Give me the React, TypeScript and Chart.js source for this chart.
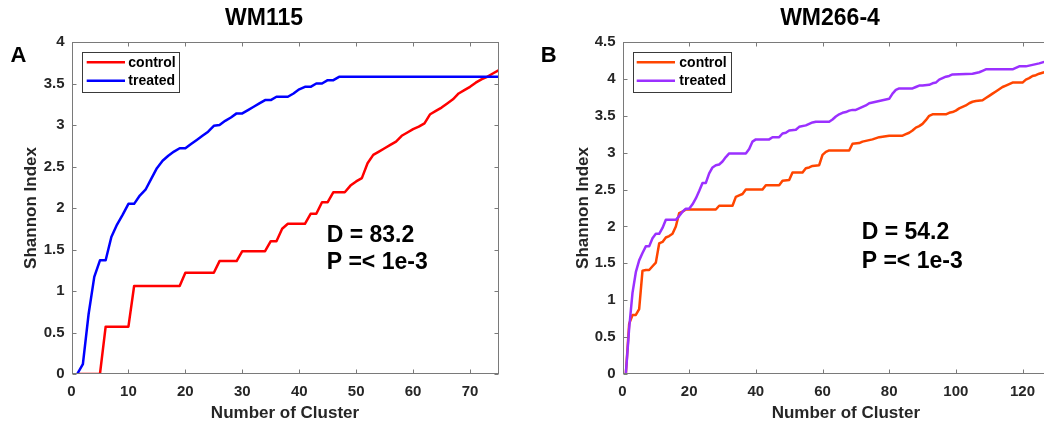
import React, { useEffect, useRef } from "react";
import { Chart, registerables } from "chart.js";

Chart.register(...registerables);

const FONT = "'Liberation Sans', Arial, Helvetica, sans-serif";

// ---------- Panel A : WM115 ----------
const xTicksA = [0, 10, 20, 30, 40, 50, 60, 70];
const yTicksA = [0, 0.5, 1, 1.5, 2, 2.5, 3, 3.5, 4];
const treatedAX = [1, 2, 3, 4, 5, 6, 7, 8, 9, 10, 11, 12, 13, 14, 15, 16, 17, 18, 19, 20, 21, 22, 23, 24, 25, 26, 27, 28, 29, 30, 31, 32, 33, 34, 35, 36, 37, 38, 39, 40, 41, 42, 43, 44, 45, 46, 47, 75];
const treatedAY = [0, 0.12, 0.72, 1.17, 1.37, 1.37, 1.65, 1.8, 1.92, 2.05, 2.05, 2.15, 2.22, 2.35, 2.48, 2.57, 2.63, 2.68, 2.72, 2.72, 2.77, 2.82, 2.87, 2.92, 2.99, 3.0, 3.05, 3.09, 3.14, 3.14, 3.18, 3.22, 3.26, 3.3, 3.3, 3.34, 3.34, 3.34, 3.38, 3.43, 3.46, 3.46, 3.5, 3.5, 3.54, 3.54, 3.58, 3.58];
const controlAX = [1, 5, 6, 10, 11, 19, 20, 25, 26, 29, 30, 34, 35, 36, 37, 38, 41, 42, 43, 44, 45, 46, 48, 49, 50, 51, 52, 53, 54, 55, 56, 57, 58, 59, 60, 61, 62, 63, 64, 65, 66, 67, 68, 69, 70, 71, 72, 73, 74, 75];
const controlAY = [0, 0, 0.57, 0.57, 1.06, 1.06, 1.22, 1.22, 1.36, 1.36, 1.48, 1.48, 1.6, 1.6, 1.75, 1.81, 1.81, 1.93, 1.93, 2.07, 2.07, 2.19, 2.19, 2.27, 2.32, 2.36, 2.54, 2.64, 2.68, 2.72, 2.76, 2.8, 2.87, 2.91, 2.95, 2.98, 3.02, 3.13, 3.17, 3.21, 3.26, 3.31, 3.38, 3.42, 3.46, 3.51, 3.55, 3.58, 3.62, 3.66];

// ---------- Panel B : WM266-4 ----------
const xTicksB = [0, 20, 40, 60, 80, 100, 120];
const yTicksB = [0, 0.5, 1, 1.5, 2, 2.5, 3, 3.5, 4, 4.5];
const treatedBX = [1, 2, 3, 4, 5, 6, 7, 8, 9, 10, 11, 12, 13, 16, 17, 18, 19, 20, 21, 22, 23, 24, 25, 26, 27, 28, 29, 30, 31, 32, 37, 38, 39, 40, 44, 45, 47, 48, 49, 50, 52, 53, 55, 56, 57, 58, 62, 63, 64, 65, 66, 67, 68, 69, 70, 71, 72, 73, 74, 75, 76, 77, 78, 79, 80, 81, 82, 83, 87, 88, 89, 90, 92, 93, 94, 95, 96, 97, 98, 99, 105, 106, 107, 108, 109, 117, 118, 119, 121, 122, 123, 124, 125, 126.5];
const treatedBY = [0, 0.62, 1.1, 1.38, 1.54, 1.64, 1.73, 1.73, 1.84, 1.9, 1.9, 1.98, 2.09, 2.09, 2.14, 2.2, 2.24, 2.24, 2.3, 2.38, 2.48, 2.59, 2.59, 2.72, 2.8, 2.83, 2.84, 2.88, 2.94, 2.99, 2.99, 3.05, 3.15, 3.18, 3.18, 3.21, 3.21, 3.26, 3.27, 3.3, 3.31, 3.35, 3.37, 3.39, 3.41, 3.42, 3.42, 3.45, 3.49, 3.52, 3.54, 3.55, 3.57, 3.58, 3.58, 3.6, 3.62, 3.64, 3.67, 3.68, 3.69, 3.7, 3.71, 3.72, 3.73, 3.8, 3.85, 3.87, 3.87, 3.89, 3.91, 3.91, 3.92, 3.94, 3.95, 3.99, 4.01, 4.03, 4.04, 4.06, 4.07, 4.08, 4.09, 4.11, 4.13, 4.13, 4.15, 4.17, 4.17, 4.18, 4.19, 4.2, 4.21, 4.23];
const controlBX = [1, 2, 3, 4, 5, 6, 7, 8, 9, 10, 11, 12, 13, 14, 15, 16, 17, 18, 19, 28, 29, 33, 34, 35, 36, 37, 42, 43, 47, 48, 50, 51, 54, 55, 56, 57, 59, 60, 61, 62, 68, 69, 71, 72, 74, 75, 77, 80, 84, 85, 86, 87, 88, 89, 90, 91, 92, 93, 97, 98, 99, 100, 101, 102, 103, 104, 105, 106, 108, 109, 110, 111, 112, 113, 114, 115, 116, 117, 120, 121, 122, 123, 124, 125, 126.5];
const controlBY = [0, 0.68, 0.8, 0.8, 0.88, 1.4, 1.41, 1.41, 1.46, 1.51, 1.77, 1.79, 1.85, 1.87, 1.9, 2.0, 2.18, 2.2, 2.23, 2.23, 2.28, 2.28, 2.4, 2.42, 2.44, 2.5, 2.5, 2.56, 2.56, 2.62, 2.63, 2.73, 2.73, 2.79, 2.8, 2.82, 2.83, 2.97, 3.01, 3.03, 3.03, 3.12, 3.13, 3.15, 3.17, 3.18, 3.21, 3.23, 3.23, 3.25, 3.27, 3.3, 3.34, 3.36, 3.39, 3.44, 3.5, 3.52, 3.52, 3.54, 3.55, 3.57, 3.6, 3.62, 3.64, 3.67, 3.69, 3.7, 3.71, 3.74, 3.77, 3.8, 3.83, 3.86, 3.89, 3.91, 3.93, 3.95, 3.95, 3.99, 4.01, 4.04, 4.05, 4.07, 4.09];

const CANVAS_H = 428;
const PLOT_TOP = 42;
const PLOT_BOTTOM = 374;
const BOX_COLOR = "#7a7a7a";
const TEXT_COLOR = "#262626";

type Series = { label: string; color: string; xs: number[]; ys: number[] };
type Panel = {
  title: string;
  letter: string;
  dText: string;
  pText: string;
  xMax: number;
  yMax: number;
  xTicks: number[];
  yTicks: number[];
  control: Series;
  treated: Series;
  width: number;
  plotLeft: number;
  plotRight: number;
  titleX: number;
  letterX: number;
  annX: number;
  annDY: number;
  annPY: number;
  yTitleCenter: number;
  legX: number;
  legW: number;
  lineX0: number;
  lineX1: number;
  textX: number;
};

const panelA: Panel = {
  title: "WM115",
  letter: "A",
  dText: "D = 83.2",
  pText: "P =< 1e-3",
  xMax: 75,
  yMax: 4,
  xTicks: xTicksA,
  yTicks: yTicksA,
  control: { label: "control", color: "#ff0000", xs: controlAX, ys: controlAY },
  treated: { label: "treated", color: "#0000ff", xs: treatedAX, ys: treatedAY },
  width: 522,
  plotLeft: 71.5,
  plotRight: 498.5,
  titleX: 264,
  letterX: 10.5,
  annX: 326.7,
  annDY: 236,
  annPY: 262.5,
  yTitleCenter: 31,
  legX: 81.7,
  legW: 97.3,
  lineX0: 86.7,
  lineX1: 125,
  textX: 128.3,
};

const panelB: Panel = {
  title: "WM266-4",
  letter: "B",
  dText: "D = 54.2",
  pText: "P =< 1e-3",
  xMax: 134,
  yMax: 4.5,
  xTicks: xTicksB,
  yTicks: yTicksB,
  control: { label: "control", color: "#ff4500", xs: controlBX, ys: controlBY },
  treated: { label: "treated", color: "#9b30ff", xs: treatedBX, ys: treatedBY },
  width: 572,
  plotLeft: 100.5,
  plotRight: 547.2,
  titleX: 308,
  letterX: 18.7,
  annX: 339.7,
  annDY: 232.5,
  annPY: 261.3,
  yTitleCenter: 61,
  legX: 110.7,
  legW: 98.3,
  lineX0: 114.7,
  lineX1: 153,
  textX: 157.3,
};

function zip(xs: number[], ys: number[]) {
  return xs.map((x, i) => ({ x, y: ys[i] }));
}

function makeDecor(p: Panel) {
  return {
    id: "decor",
    afterDatasetsDraw(chart: any) {
      const ctx = chart.ctx as CanvasRenderingContext2D;
      const a = chart.chartArea;
      const xs = chart.scales.x;
      const ys = chart.scales.y;
      ctx.save();
      ctx.strokeStyle = BOX_COLOR;
      ctx.lineWidth = 1;
      const L = Math.round(a.left) + 0.5;
      const R = Math.round(a.right) - 0.5;
      const T = Math.round(a.top) + 0.5;
      const B = Math.round(a.bottom) - 0.5;
      ctx.strokeRect(L, T, R - L, B - T);
      const tl = 4;
      ctx.beginPath();
      p.xTicks.forEach((v) => {
        const px = Math.round(xs.getPixelForValue(v)) + 0.5;
        ctx.moveTo(px, B);
        ctx.lineTo(px, B - tl);
        ctx.moveTo(px, T);
        ctx.lineTo(px, T + tl);
      });
      p.yTicks.forEach((v) => {
        const py = Math.round(ys.getPixelForValue(v)) + 0.5;
        ctx.moveTo(L, py);
        ctx.lineTo(L + tl, py);
        ctx.moveTo(R, py);
        ctx.lineTo(R - tl, py);
      });
      ctx.stroke();
      ctx.restore();
    },
    afterDraw(chart: any) {
      const ctx = chart.ctx as CanvasRenderingContext2D;
      ctx.save();
      ctx.fillStyle = "#000";
      ctx.textBaseline = "middle";
      // title
      ctx.font = `bold 23px ${FONT}`;
      ctx.textAlign = "center";
      ctx.fillText(p.title, p.titleX, 19);
      // panel letter
      ctx.font = `bold 22px ${FONT}`;
      ctx.textAlign = "left";
      ctx.fillText(p.letter, p.letterX, 56);
      // annotation
      ctx.font = `bold 23px ${FONT}`;
      ctx.fillText(p.dText, p.annX, p.annDY);
      ctx.fillText(p.pText, p.annX, p.annPY);
      // legend
      const ly = 51.7;
      const lh = 40.3;
      ctx.fillStyle = "#fff";
      ctx.fillRect(p.legX, ly, p.legW, lh);
      ctx.strokeStyle = "#3a3a3a";
      ctx.lineWidth = 1;
      ctx.strokeRect(Math.round(p.legX) + 0.5, Math.round(ly) + 0.5, Math.round(p.legW), Math.round(lh));
      const rows: [Series, number][] = [
        [p.control, 62.3],
        [p.treated, 80.7],
      ];
      ctx.font = `bold 14px ${FONT}`;
      rows.forEach(([s, y]) => {
        ctx.strokeStyle = s.color;
        ctx.lineWidth = 2.5;
        ctx.beginPath();
        ctx.moveTo(p.lineX0, y);
        ctx.lineTo(p.lineX1, y);
        ctx.stroke();
        ctx.fillStyle = "#000";
        ctx.fillText(s.label, p.textX, y + 0.5);
      });
      ctx.restore();
    },
  };
}

function buildConfig(p: Panel): any {
  const tickFont = { family: FONT, size: 15, weight: "bold" as const };
  const titleFont = { family: FONT, size: 17, weight: "bold" as const };
  return {
    type: "line",
    data: {
      datasets: [
        {
          label: p.treated.label,
          data: zip(p.treated.xs, p.treated.ys),
          borderColor: p.treated.color,
          backgroundColor: p.treated.color,
          borderWidth: 2.5,
          pointRadius: 0,
          tension: 0,
          fill: false,
          borderJoinStyle: "round",
        },
        {
          label: p.control.label,
          data: zip(p.control.xs, p.control.ys),
          borderColor: p.control.color,
          backgroundColor: p.control.color,
          borderWidth: 2.5,
          pointRadius: 0,
          tension: 0,
          fill: false,
          borderJoinStyle: "round",
        },
      ],
    },
    options: {
      animation: false,
      responsive: false,
      maintainAspectRatio: false,
      events: [],
      parsing: true,
      layout: { padding: { left: 0, top: PLOT_TOP, right: p.width - p.plotRight, bottom: 0 } },
      plugins: {
        legend: { display: false },
        tooltip: { enabled: false },
        title: { display: false },
      },
      scales: {
        x: {
          type: "linear",
          min: 0,
          max: p.xMax,
          afterFit: (s: any) => {
            s.height = CANVAS_H - PLOT_BOTTOM;
          },
          afterBuildTicks: (s: any) => {
            s.ticks = p.xTicks.map((v) => ({ value: v }));
          },
          grid: { display: false, drawTicks: false },
          border: { display: false },
          ticks: {
            padding: 9,
            color: TEXT_COLOR,
            font: tickFont,
            maxRotation: 0,
            autoSkip: false,
            callback: (v: any) => String(v),
          },
          title: {
            display: true,
            text: "Number of Cluster",
            color: TEXT_COLOR,
            font: titleFont,
            padding: { top: 0, bottom: 4 },
          },
        },
        y: {
          type: "linear",
          min: 0,
          max: p.yMax,
          afterFit: (s: any) => {
            s.width = p.plotLeft;
          },
          afterBuildTicks: (s: any) => {
            s.ticks = p.yTicks.map((v) => ({ value: v }));
          },
          grid: { display: false, drawTicks: false },
          border: { display: false },
          ticks: {
            padding: 7,
            color: TEXT_COLOR,
            font: tickFont,
            autoSkip: false,
            callback: (v: any) => String(v),
          },
          title: {
            display: true,
            text: "Shannon Index",
            color: TEXT_COLOR,
            font: titleFont,
            padding: { top: p.yTitleCenter - 10.2, bottom: 0 },
          },
        },
      },
    },
    plugins: [makeDecor(p)],
  };
}

function PanelChart({ panel, left }: { panel: Panel; left: number }) {
  const ref = useRef<HTMLCanvasElement | null>(null);
  useEffect(() => {
    if (!ref.current) return;
    const chart = new Chart(ref.current, buildConfig(panel));
    return () => chart.destroy();
  }, [panel]);
  return (
    <canvas
      ref={ref}
      width={panel.width}
      height={CANVAS_H}
      style={{ position: "absolute", left, top: 0, width: panel.width, height: CANVAS_H }}
    />
  );
}

export default function App() {
  return (
    <div
      style={{
        position: "absolute",
        left: 0,
        top: 0,
        width: 1044,
        height: CANVAS_H,
        overflow: "hidden",
        background: "#ffffff",
      }}
    >
      <PanelChart panel={panelA} left={0} />
      <PanelChart panel={panelB} left={522} />
    </div>
  );
}
